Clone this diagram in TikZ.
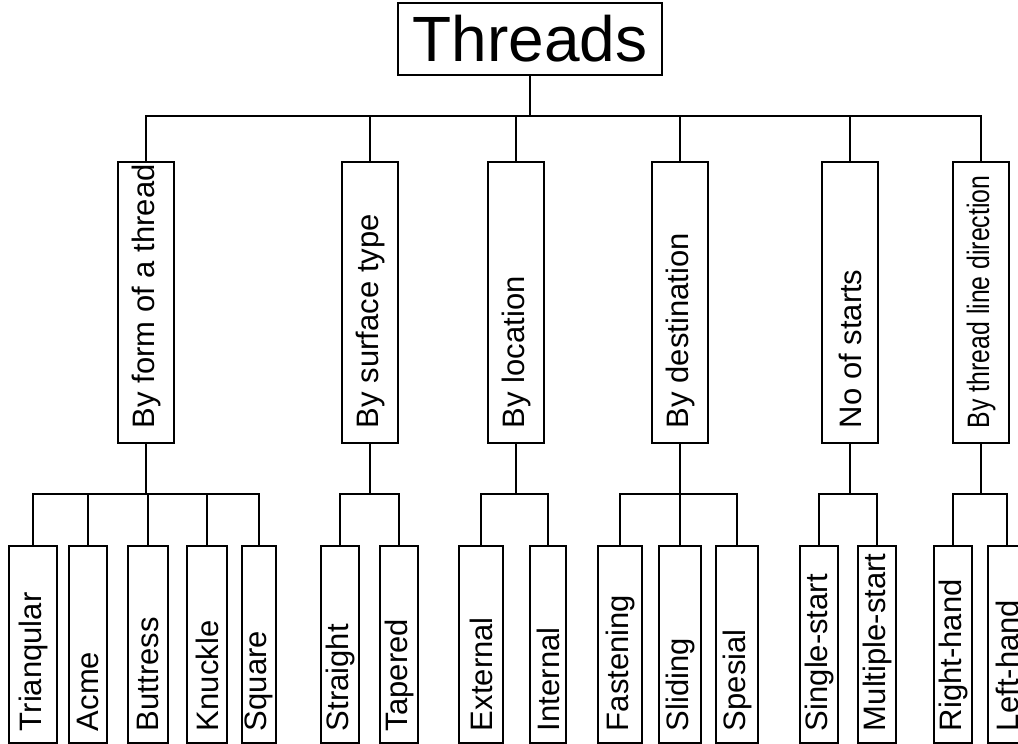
\documentclass[tikz,border=0pt]{standalone}
\usepackage{fontspec}
\setmainfont{Liberation Sans}
\newfontfamily\narrowfont[FakeStretch=0.8]{Liberation Sans}
\usepackage{tikz}

\newcommand{\catlabel}[1]{\hbox to 251pt{#1\hss}}
\newcommand{\leaflabel}[1]{\hbox to 173pt{#1\hss}}

\begin{document}
\begin{tikzpicture}[x=1pt, y=-1pt, line width=1.5pt,
  topbox/.style={draw, minimum width=264pt, minimum height=72pt, inner sep=0pt,
    font=\fontsize{64}{70}\selectfont},
  catbox/.style={draw, rotate=90, inner xsep=15pt, inner ysep=0pt,
    minimum height=56pt, font=\fontsize{31}{35}\selectfont},
  leafbox/.style={draw, rotate=90, inner xsep=12pt, inner ysep=0pt,
    font=\fontsize{31}{35}\selectfont}]

  \useasboundingbox (0, 0) rectangle (1018, 744);

  % Root
  \node[topbox] (threads) at (530, 39) {Threads};

  % Categories
  \node[catbox] (form) at (146, 302.5) {\catlabel{By form of a thread}};
  \node[catbox] (surface) at (370, 302.5) {\catlabel{By surface type}};
  \node[catbox] (location) at (516, 302.5) {\catlabel{By location}};
  \node[catbox] (destination) at (680, 302.5) {\catlabel{By destination}};
  \node[catbox] (starts) at (850, 302.5) {\catlabel{No of starts}};
  \node[catbox] (direction) at (981, 302.5) {\catlabel{\narrowfont By thread line direction}};

  % Root to categories
  \draw (threads.south) -- ++(0, 40) -| (form.east);
  \draw (threads.south) -- ++(0, 40) -| (surface.east);
  \draw (threads.south) -- ++(0, 40) -| (location.east);
  \draw (threads.south) -- ++(0, 40) -| (destination.east);
  \draw (threads.south) -- ++(0, 40) -| (starts.east);
  \draw (threads.south) -- ++(0, 40) -| (direction.east);

  % Form of a thread
  \node[leafbox, minimum height=48pt] (triangular) at (33, 644.5) {\leaflabel{Trianqular}};
  \node[leafbox, minimum height=38pt] (acme) at (88, 644.5) {\leaflabel{Acme}};
  \node[leafbox, minimum height=40pt] (buttress) at (148, 644.5) {\leaflabel{Buttress}};
  \node[leafbox, minimum height=40pt] (knuckle) at (207, 644.5) {\leaflabel{Knuckle}};
  \node[leafbox, minimum height=34pt] (square) at (259, 644.5) {\leaflabel{Square}};
  \draw (form.west) -- ++(0, 50) -| (triangular.east);
  \draw (form.west) -- ++(0, 50) -| (acme.east);
  \draw (form.west) -- ++(0, 50) -| (buttress.east);
  \draw (form.west) -- ++(0, 50) -| (knuckle.east);
  \draw (form.west) -- ++(0, 50) -| (square.east);

  % Surface type
  \node[leafbox, minimum height=38pt] (straight) at (340, 644.5) {\leaflabel{Straight}};
  \node[leafbox, minimum height=38pt] (tapered) at (399, 644.5) {\leaflabel{Tapered}};
  \draw (surface.west) -- ++(0, 50) -| (straight.east);
  \draw (surface.west) -- ++(0, 50) -| (tapered.east);

  % Location
  \node[leafbox, minimum height=44pt] (external) at (481, 644.5) {\leaflabel{External}};
  \node[leafbox, minimum height=36pt] (internal) at (548, 644.5) {\leaflabel{Internal}};
  \draw (location.west) -- ++(0, 50) -| (external.east);
  \draw (location.west) -- ++(0, 50) -| (internal.east);

  % Destination
  \node[leafbox, minimum height=44pt] (fastening) at (620, 644.5) {\leaflabel{Fastening}};
  \node[leafbox, minimum height=42pt] (sliding) at (680, 644.5) {\leaflabel{Sliding}};
  \node[leafbox, minimum height=42pt] (spesial) at (737, 644.5) {\leaflabel{Spesial}};
  \draw (destination.west) -- ++(0, 50) -| (fastening.east);
  \draw (destination.west) -- ++(0, 50) -| (sliding.east);
  \draw (destination.west) -- ++(0, 50) -| (spesial.east);

  % Starts
  \node[leafbox, minimum height=38pt] (single) at (819, 644.5) {\leaflabel{Single-start}};
  \node[leafbox, minimum height=38pt] (multiple) at (877, 644.5) {\leaflabel{Multiple-start}};
  \draw (starts.west) -- ++(0, 50) -| (single.east);
  \draw (starts.west) -- ++(0, 50) -| (multiple.east);

  % Direction
  \node[leafbox, minimum height=38pt] (righthand) at (953, 644.5) {\leaflabel{Right-hand}};
  \node[leafbox, minimum height=38pt] (lefthand) at (1007, 644.5) {\leaflabel{Left-hand}};
  \draw (direction.west) -- ++(0, 50) -| (righthand.east);
  \draw (direction.west) -- ++(0, 50) -| (lefthand.east);

\end{tikzpicture}
\end{document}
